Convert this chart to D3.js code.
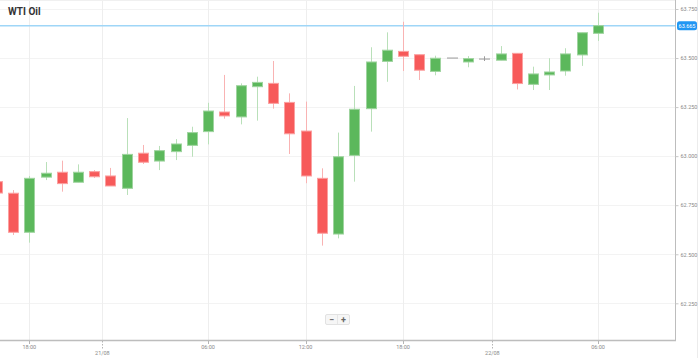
<!DOCTYPE html>
<html>
<head>
<meta charset="utf-8">
<script src="https://cdn.jsdelivr.net/npm/d3@7"></script>
<style>
  html, body { margin: 0; padding: 0; background: #fff; }
  svg { display: block; font-family: Roboto, "Open Sans", Arial, sans-serif; }
</style>
</head>
<body>
<svg id="chart" width="699" height="358"></svg>
<script>
// ---- data ----
const title = "WTI Oil";
const categories = ["16:00","17:00","18:00","19:00","20:00","21:00","22:00","00:00","01:00","02:00","03:00","04:00","05:00","06:00","07:00","08:00","09:00","10:00","11:00","12:00","13:00","14:00","15:00","16:00","17:00","18:00","19:00","20:00","21:00","22:00","00:00","01:00","02:00","03:00","04:00","05:00","06:00","07:00"];
const openVals  = [62.870,62.811,62.612,62.893,62.918,62.867,62.921,62.899,62.836,63.015,62.975,63.023,63.055,63.125,63.225,63.200,63.354,63.371,63.274,63.128,62.887,62.603,63.004,63.242,63.483,63.534,63.517,63.432,63.500,63.480,63.495,63.489,63.524,63.366,63.414,63.434,63.516,63.626];
const highVals  = [62.884,62.827,62.899,62.970,62.977,62.958,62.929,62.940,63.194,63.057,63.052,63.087,63.150,63.272,63.414,63.371,63.405,63.485,63.320,63.278,62.938,63.120,63.358,63.555,63.631,63.685,63.517,63.512,63.500,63.510,63.509,63.561,63.524,63.456,63.499,63.550,63.629,63.731];
const lowVals   = [62.802,62.598,62.559,62.878,62.819,62.867,62.889,62.848,62.802,62.960,62.929,62.980,62.997,63.060,63.191,63.162,63.181,63.242,63.011,62.862,62.544,62.581,62.870,63.125,63.379,63.434,63.388,63.412,63.500,63.453,63.485,63.489,63.340,63.337,63.337,63.410,63.460,63.587];
const closeVals = [62.812,62.612,62.887,62.913,62.860,62.918,62.895,62.848,63.009,62.969,63.028,63.062,63.120,63.230,63.205,63.359,63.376,63.269,63.114,62.899,62.607,62.997,63.239,63.480,63.540,63.509,63.438,63.499,63.500,63.497,63.495,63.521,63.370,63.419,63.429,63.521,63.629,63.665];
const firstIndex = -1;               // first candle is partly cut off at the left edge
const yTickValues = [62.25, 62.5, 62.75, 63.0, 63.25, 63.5, 63.75];
const xTickLabels = ["18:00","21/08","06:00","12:00","18:00","22/08","06:00"];
const xTickIndex  = [1, 5.5, 12, 18, 24, 29.5, 36];
const xTickIsDate = [false, true, false, false, false, true, false];
const lastPrice = 63.665;

// ---- layout ----
const W = 699, H = 358;
const plot = { left: 0, right: 675, top: 0, bottom: 340 };
const svg = d3.select("#chart");

const x = d3.scaleLinear().domain([0, 36]).range([13, 598]);
const y = d3.scaleLinear().domain([62.25, 63.75]).range([303.3, 9]);
const step = x(1) - x(0);
const bodyW = 10;

const candles = categories.map((c, k) => ({
  cat: c, idx: firstIndex + k,
  o: openVals[k], h: highVals[k], l: lowVals[k], c: closeVals[k]
}));

svg.append("defs").append("clipPath").attr("id", "clip")
  .append("rect").attr("x", plot.left).attr("y", plot.top)
  .attr("width", plot.right - plot.left).attr("height", plot.bottom - plot.top);

// outer faint border at right
svg.append("line").attr("x1", 697.5).attr("x2", 697.5).attr("y1", 0).attr("y2", H)
  .attr("stroke", "#ececec");

// grid
const grid = svg.append("g");
grid.selectAll(".hg").data(yTickValues).join("line")
  .attr("x1", plot.left).attr("x2", plot.right)
  .attr("y1", d => Math.round(y(d)) + 0.5).attr("y2", d => Math.round(y(d)) + 0.5)
  .attr("stroke", "#f3f3f3");
grid.selectAll(".vg").data(xTickIndex).join("line")
  .attr("x1", d => Math.round(x(d)) + 0.5).attr("x2", d => Math.round(x(d)) + 0.5)
  .attr("y1", plot.top).attr("y2", plot.bottom)
  .attr("stroke", "#eeeeee");
grid.append("line").attr("x1", 0).attr("x2", plot.right).attr("y1", 0.5).attr("y2", 0.5)
  .attr("stroke", "#f0f0f0");

// title
svg.append("text").attr("x", 8).attr("y", 15)
  .attr("font-size", 10).attr("font-weight", "bold").attr("fill", "#333")
  .text(title);

// last price line
svg.append("line").attr("x1", plot.left).attr("x2", plot.right)
  .attr("y1", y(lastPrice)).attr("y2", y(lastPrice))
  .attr("stroke", "#9fd6f7").attr("stroke-width", 1.5);

// candles
const greenFill = "#5cb85c", greenLight = "#b9e0b9";
const redFill = "#f75a5a", redLight = "#f9b3b3";
const neutral = "#9a9a9a";
const cg = svg.append("g").attr("clip-path", "url(#clip)");
const col = d => d.c > d.o ? "up" : (d.c < d.o ? "down" : "flat");

cg.selectAll(".wick").data(candles).join("line")
  .attr("x1", d => Math.round(x(d.idx)) + 0.5).attr("x2", d => Math.round(x(d.idx)) + 0.5)
  .attr("y1", d => y(d.h)).attr("y2", d => y(d.l))
  .attr("stroke", d => col(d) === "up" ? greenLight : col(d) === "down" ? redLight : neutral)
  .attr("stroke-width", 1);

cg.selectAll(".body").data(candles).join("rect")
  .attr("x", d => Math.round(x(d.idx)) - bodyW / 2 + 0.5)
  .attr("y", d => y(Math.max(d.o, d.c)))
  .attr("width", bodyW)
  .attr("height", d => Math.max(0.01, Math.abs(y(d.o) - y(d.c))))
  .attr("fill", d => col(d) === "up" ? greenFill : col(d) === "down" ? redFill : neutral)
  .attr("stroke", d => col(d) === "up" ? "#9fd49f" : col(d) === "down" ? "#fba0a0" : neutral)
  .attr("stroke-width", 1);

// right axis
const ra = svg.append("g");
ra.append("line").attr("x1", plot.right + 0.5).attr("x2", plot.right + 0.5)
  .attr("y1", 0).attr("y2", plot.bottom + 1).attr("stroke", "#bdbdbd");
const yAxis = d3.axisRight(y).tickValues(yTickValues).tickSize(3).tickPadding(2)
  .tickFormat(d3.format(".3f"));
const yg = svg.append("g").attr("transform", `translate(${plot.right + 0.5},0)`).call(yAxis);
yg.select(".domain").remove();
yg.selectAll("line").attr("stroke", "#c8c8c8");
yg.selectAll("text").attr("font-size", 5.5).attr("fill", "#8a8a8a").attr("font-family", "Roboto, Arial, sans-serif");

// last price label
const lp = svg.append("g").attr("transform", `translate(677,${y(lastPrice)})`);
lp.append("rect").attr("x", 0).attr("y", -4.5).attr("width", 20).attr("height", 9).attr("rx", 2.5)
  .attr("fill", "#2196f3");
lp.append("text").attr("x", 10).attr("y", 2).attr("text-anchor", "middle")
  .attr("font-size", 5.5).attr("fill", "#fff").text(d3.format(".3f")(lastPrice));

// bottom axis
svg.append("line").attr("x1", 0).attr("x2", plot.right + 1)
  .attr("y1", plot.bottom + 0.5).attr("y2", plot.bottom + 0.5).attr("stroke", "#bdbdbd").attr("stroke-width", 1.5);
const xt = svg.append("g");
const xticks = xTickLabels.map((t, k) => ({ t, i: xTickIndex[k], date: xTickIsDate[k] }));
xt.selectAll(".tk").data(xticks).join("line")
  .attr("x1", d => Math.round(x(d.i)) + 0.5).attr("x2", d => Math.round(x(d.i)) + 0.5)
  .attr("y1", plot.bottom + 1).attr("y2", d => d.date ? plot.bottom + 9 : plot.bottom + 4)
  .attr("stroke", "#b5b5b5")
  .attr("stroke-dasharray", d => d.date ? "1.5,1.5" : null);
xt.selectAll(".tl").data(xticks).join("text")
  .attr("x", d => x(d.i)).attr("y", d => d.date ? plot.bottom + 15 : plot.bottom + 9)
  .attr("text-anchor", "middle").attr("font-size", 5.5).attr("fill", "#8a8a8a")
  .text(d => d.t);

// zoom control
const zc = svg.append("g").attr("transform", "translate(325,314)");
zc.append("rect").attr("x", 0.5).attr("y", 0.5).attr("width", 24).attr("height", 10).attr("rx", 1.5)
  .attr("fill", "#f6f6f6").attr("stroke", "#e2e2e2");
zc.append("line").attr("x1", 12.5).attr("x2", 12.5).attr("y1", 1).attr("y2", 10).attr("stroke", "#e6e6e6");
zc.append("text").attr("x", 6.5).attr("y", 8.5).attr("text-anchor", "middle")
  .attr("font-size", 9).attr("font-weight", "bold").attr("fill", "#666").text("−");
zc.append("text").attr("x", 18.5).attr("y", 8.5).attr("text-anchor", "middle")
  .attr("font-size", 9).attr("font-weight", "bold").attr("fill", "#666").text("+");
</script>
</body>
</html>
